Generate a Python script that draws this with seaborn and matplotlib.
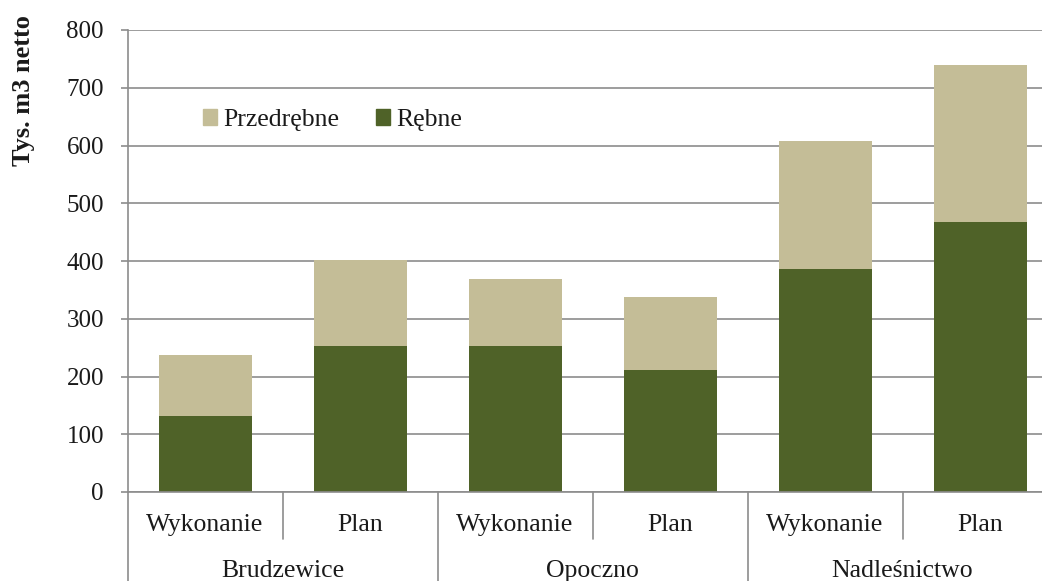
import pandas as pd
import matplotlib.pyplot as plt
import matplotlib.transforms as mtransforms
from matplotlib.patches import Patch
import seaborn as sns

# values (tys. m3 netto)
groups = ['Brudzewice', 'Opoczno', 'Nadleśnictwo']
kinds = ['Wykonanie', 'Plan']
rebne = [132, 253, 253, 211, 386, 467]
przedrebne = [106, 148, 116, 127, 222, 272]

sns.set_theme(style='white')
plt.rcParams['font.family'] = ['Liberation Serif', 'DejaVu Serif']

# one row per bar, keyed by position so the repeated labels stay separate
keys = [f'{g}|{k}' for g in groups for k in kinds]
df = pd.DataFrame({'bar': keys, 'Rębne': rebne, 'Przedrębne': przedrebne})
df['total'] = df['Rębne'] + df['Przedrębne']

dark = '#4F6228'
light = '#C4BD97'
grid_col = '#8C8C8C'
txt_col = '#1a1a1a'

fig = plt.figure(figsize=(10.42, 5.81), dpi=100)
ax = fig.add_axes([127.5 / 1042, 89 / 581, 930 / 1042, 462 / 581])

sns.barplot(data=df, x='bar', y='total', order=keys, color=light,
            width=0.6, saturation=1, ax=ax, linewidth=0)
sns.barplot(data=df, x='bar', y='Rębne', order=keys, color=dark,
            width=0.6, saturation=1, ax=ax, linewidth=0)

ax.set_xlim(-0.5, len(keys) - 0.5)
ax.set_ylim(0, 800)
ax.set_yticks(range(0, 801, 100))
ax.yaxis.grid(True, color=grid_col, linewidth=1.2)
ax.set_axisbelow(True)
for s in ['top', 'right']:
    ax.spines[s].set_visible(False)
for s in ['left', 'bottom']:
    ax.spines[s].set_color(grid_col)
    ax.spines[s].set_linewidth(1.2)
ax.tick_params(axis='y', left=True, length=5, width=1.2, color=grid_col,
               labelsize=18, labelcolor=txt_col, pad=12)
ax.set_xticks([])
ax.set_xlabel('')
ax.set_ylabel('')
ax.text(-0.112, 0.868, 'Tys. m3 netto', transform=ax.transAxes, rotation=90,
        ha='center', va='center', fontsize=19, fontweight='bold', color=txt_col)

# two-level category axis drawn under the plot
trans = mtransforms.blended_transform_factory(ax.transData, ax.transAxes)
for i, k in enumerate(keys):
    ax.text(i, -0.0844, k.split('|')[1], transform=trans, ha='center',
            va='baseline', fontsize=18.5, color=txt_col)
for j, g in enumerate(groups):
    ax.text(j * 2 + 0.5, -0.185, g, transform=trans, ha='center',
            va='baseline', fontsize=18.5, color=txt_col)
for j in range(len(groups)):
    ax.plot([j * 2 + 0.5] * 2, [0, -0.102], transform=trans, color=grid_col,
            lw=1.2, clip_on=False)
for j in range(len(groups) + 1):
    ax.plot([j * 2 - 0.5] * 2, [0, -0.2], transform=trans, color=grid_col,
            lw=1.2, clip_on=False)

handles = [Patch(color=light, label='Przedrębne'), Patch(color=dark, label='Rębne')]
ax.legend(handles=handles, loc='center left', bbox_to_anchor=(0.0812, 0.805),
          ncol=2, frameon=False, fontsize=18.5, handlelength=0.55,
          handleheight=0.55, handletextpad=0.25, columnspacing=1.4,
          borderpad=0, borderaxespad=0, labelcolor=txt_col)

fig.savefig('out.png', dpi=100)
